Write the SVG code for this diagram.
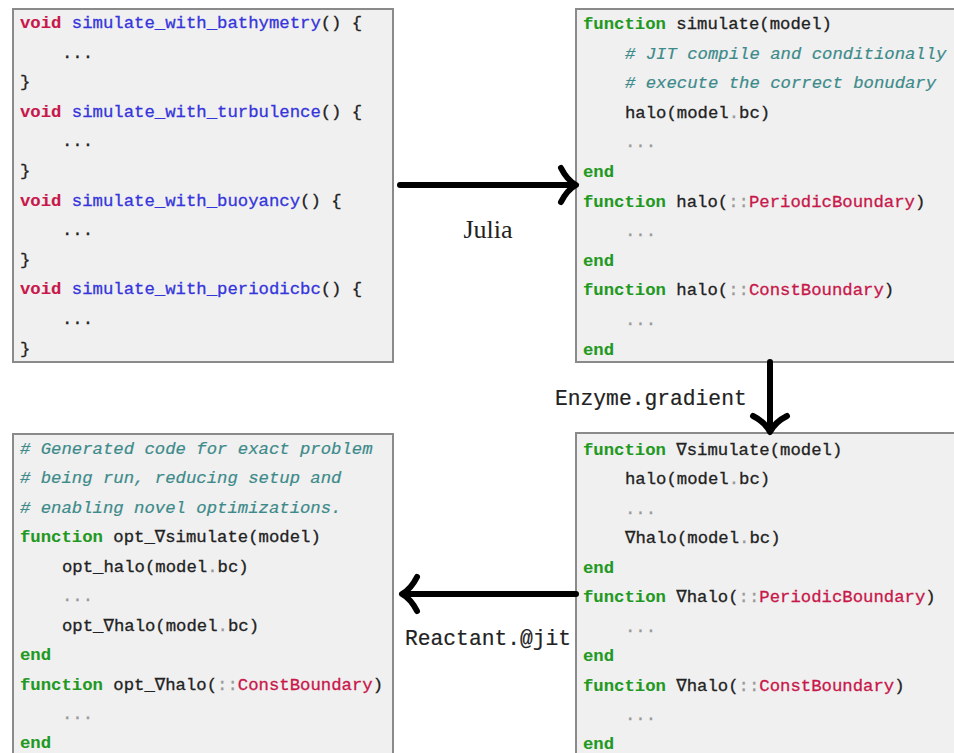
<svg xmlns="http://www.w3.org/2000/svg" width="954" height="753" viewBox="0 0 954 753">
<style>
.box{fill:#f0f0f0;stroke:#8a8a8a;stroke-width:2}
.c{font-family:"Liberation Mono","DejaVu Sans Mono",monospace;font-size:17.3px;fill:#222;stroke:#222;stroke-width:0.3}
.k{font-weight:bold;fill:#1f991f;stroke:#1f991f;stroke-width:0.1}
.v{font-weight:bold;fill:#c8174a;stroke:#c8174a;stroke-width:0.1}
.b{fill:#3535dc;stroke:#3535dc}
.r{fill:#c8174a;stroke:#c8174a}
.g{fill:#9a9a9a;stroke:#9a9a9a}
.cm{font-style:italic;fill:#3d8a8a;stroke:#3d8a8a;stroke-width:0.2}
.lbl{font-family:"Liberation Mono","DejaVu Sans Mono",monospace;font-size:21.3px;fill:#222;stroke:#222;stroke-width:0.2}
.ser{font-family:"Liberation Serif","DejaVu Serif",serif;font-size:26px;fill:#222}
.arr{fill:none;stroke:#000;stroke-width:6;stroke-linecap:round;stroke-linejoin:round}
</style>

<g id="node-c">
<rect class="box" x="13" y="9" width="380" height="353"/>
<text class="c" x="20" y="28"><tspan class="v">void</tspan> <tspan class="b">simulate_with_bathymetry</tspan>() {</text>
<text class="c" x="62" y="57.6">...</text>
<text class="c" x="20" y="87.2">}</text>
<text class="c" x="20" y="116.8"><tspan class="v">void</tspan> <tspan class="b">simulate_with_turbulence</tspan>() {</text>
<text class="c" x="62" y="146.4">...</text>
<text class="c" x="20" y="176">}</text>
<text class="c" x="20" y="205.6"><tspan class="v">void</tspan> <tspan class="b">simulate_with_buoyancy</tspan>() {</text>
<text class="c" x="62" y="235.2">...</text>
<text class="c" x="20" y="264.8">}</text>
<text class="c" x="20" y="294.4"><tspan class="v">void</tspan> <tspan class="b">simulate_with_periodicbc</tspan>() {</text>
<text class="c" x="62" y="324">...</text>
<text class="c" x="20" y="353.6">}</text>
</g>

<g id="node-julia">
<rect class="box" x="576" y="9" width="400" height="353"/>
<text class="c" x="583" y="29"><tspan class="k">function</tspan> simulate(model)</text>
<text class="c cm" x="625" y="58.6"># JIT compile and conditionally</text>
<text class="c cm" x="625" y="88.2"># execute the correct bonudary</text>
<text class="c" x="625" y="117.8">halo(model<tspan class="g">.</tspan>bc)</text>
<text class="c g" x="625" y="147.4">...</text>
<text class="c k" x="583" y="177">end</text>
<text class="c" x="583" y="206.6"><tspan class="k">function</tspan> halo(<tspan class="g">::</tspan><tspan class="r">PeriodicBoundary</tspan>)</text>
<text class="c g" x="625" y="236.2">...</text>
<text class="c k" x="583" y="265.8">end</text>
<text class="c" x="583" y="295.4"><tspan class="k">function</tspan> halo(<tspan class="g">::</tspan><tspan class="r">ConstBoundary</tspan>)</text>
<text class="c g" x="625" y="325">...</text>
<text class="c k" x="583" y="354.6">end</text>
</g>

<g id="node-grad">
<rect class="box" x="576" y="433" width="400" height="340"/>
<text class="c" x="583" y="454.5"><tspan class="k">function</tspan> ∇simulate(model)</text>
<text class="c" x="625" y="484">halo(model<tspan class="g">.</tspan>bc)</text>
<text class="c g" x="625" y="513.5">...</text>
<text class="c" x="625" y="543">∇halo(model<tspan class="g">.</tspan>bc)</text>
<text class="c k" x="583" y="572.5">end</text>
<text class="c" x="583" y="602"><tspan class="k">function</tspan> ∇halo(<tspan class="g">::</tspan><tspan class="r">PeriodicBoundary</tspan>)</text>
<text class="c g" x="625" y="631.5">...</text>
<text class="c k" x="583" y="661">end</text>
<text class="c" x="583" y="690.5"><tspan class="k">function</tspan> ∇halo(<tspan class="g">::</tspan><tspan class="r">ConstBoundary</tspan>)</text>
<text class="c g" x="625" y="720">...</text>
<text class="c k" x="583" y="749">end</text>
</g>

<g id="node-opt">
<rect class="box" x="13" y="434" width="380" height="340"/>
<text class="c cm" x="20" y="453.5"># Generated code for exact problem</text>
<text class="c cm" x="20" y="483"># being run, reducing setup and</text>
<text class="c cm" x="20" y="512.5"># enabling novel optimizations.</text>
<text class="c" x="20" y="542"><tspan class="k">function</tspan> opt_∇simulate(model)</text>
<text class="c" x="62" y="571.5">opt_halo(model<tspan class="g">.</tspan>bc)</text>
<text class="c g" x="62" y="601">...</text>
<text class="c" x="62" y="630.5">opt_∇halo(model<tspan class="g">.</tspan>bc)</text>
<text class="c k" x="20" y="660">end</text>
<text class="c" x="20" y="689.5"><tspan class="k">function</tspan> opt_∇halo(<tspan class="g">::</tspan><tspan class="r">ConstBoundary</tspan>)</text>
<text class="c g" x="62" y="719">...</text>
<text class="c k" x="20" y="748">end</text>
</g>

<g id="connectors">
<path class="arr" d="M400 185 H573"/>
<path class="arr" d="M561 168 Q567 180 576 185 Q567 190 561 202"/>
<path class="arr" d="M770 362 V429"/>
<path class="arr" d="M753 416 Q765 422 770 432 Q775 422 787 416"/>
<path class="arr" d="M576 594 H405"/>
<path class="arr" d="M417 577 Q411 589 402 594 Q411 599 417 611"/>
<text class="ser" x="488" y="238" text-anchor="middle">Julia</text>
<text class="lbl" x="555" y="405">Enzyme.gradient</text>
<text class="lbl" x="405" y="645">Reactant.@jit</text>
</g>
</svg>
